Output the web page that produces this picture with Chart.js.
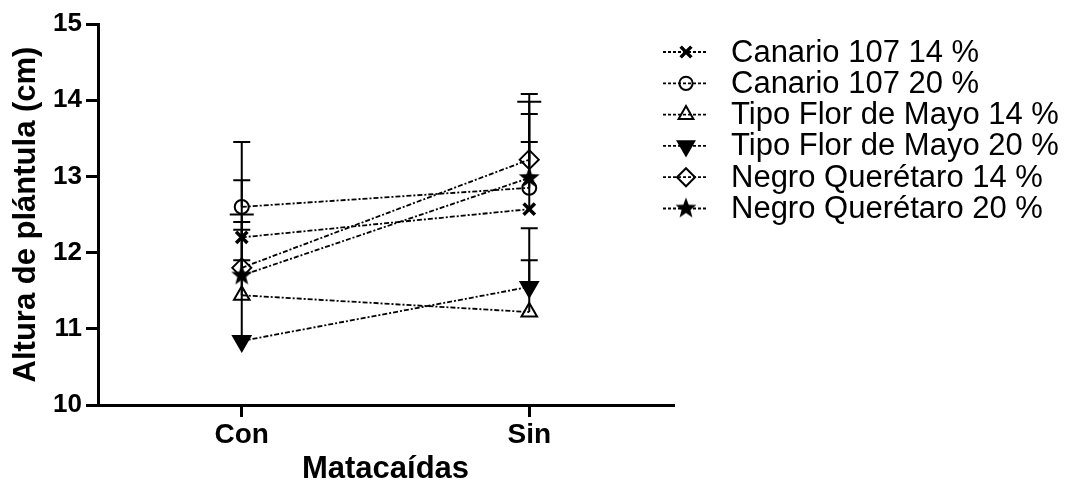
<!DOCTYPE html>
<html>
<head>
<meta charset="utf-8">
<script src="https://cdn.jsdelivr.net/npm/chart.js@4/dist/chart.umd.min.js"></script>
<style>
  html, body { margin: 0; padding: 0; background: #fff; }
  #wrap { width: 1067px; height: 489px; position: relative; }
</style>
</head>
<body>
<div id="wrap"><canvas id="c" width="1067" height="489"></canvas></div>
<script>
// ---- data ----
const categories = ['Con', 'Sin'];
const seriesNames = [
  'Canario 107 14 %',
  'Canario 107 20 %',
  'Tipo Flor de Mayo 14 %',
  'Tipo Flor de Mayo 20 %',
  'Negro Querétaro 14 %',
  'Negro Querétaro 20 %'
];
const canario14 = [12.20, 12.57];
const canario20 = [12.60, 12.85];
const tipo14 = [11.44, 11.22];
const tipo20 = [10.84, 11.55];
const negro14 = [11.80, 13.22];
const negro20 = [11.70, 12.98];
// upper error (SE) values
const canario14Err = [0.10, 1.51];
const canario20Err = [0.35, 1.13];
const tipo14Err = [1.06, 1.10];
const tipo20Err = [1.56, 0.35];
const negro14Err = [0.10, 0.23];
const negro20Err = [1.75, 0.84];
const yTicks = [10, 11, 12, 13, 14, 15];

// ---- custom marker images ----
function makeStar(r) {
  const s = Math.ceil(r * 2 + 2);
  const cv = document.createElement('canvas');
  cv.width = s; cv.height = s;
  const c = cv.getContext('2d');
  c.fillStyle = '#000';
  c.beginPath();
  for (let k = 0; k < 10; k++) {
    const rr = k % 2 === 0 ? r : r * 0.42;
    const a = -Math.PI / 2 + k * Math.PI / 5;
    const px = s / 2 + rr * Math.cos(a);
    const py = s / 2 + rr * Math.sin(a);
    if (k === 0) c.moveTo(px, py); else c.lineTo(px, py);
  }
  c.closePath();
  c.fill();
  return cv;
}
const starImg = makeStar(11);

const dash = [5, 2, 2, 2];
const FONT = "'Liberation Sans', Arial, Helvetica, sans-serif";

function ds(label, data, err, style) {
  return Object.assign({
    label: label,
    data: data,
    errUp: err,
    borderColor: '#000',
    borderWidth: 1.8,
    borderDash: dash,
    pointBorderColor: '#000',
    pointBackgroundColor: 'rgba(0,0,0,0)',
    pointBorderWidth: 2,
    pointRadius: 7.5,
    pointHoverRadius: 7.5,
    capWidth: [17, 17],
    fill: false,
    tension: 0
  }, style);
}

const datasets = [
  ds(seriesNames[0], canario14, canario14Err, { pointStyle: 'crossRot', pointRadius: 8, pointBorderWidth: 3.5 }),
  ds(seriesNames[1], canario20, canario20Err, { pointStyle: 'circle', pointRadius: 7, capWidth: [17, 24] }),
  ds(seriesNames[2], tipo14, tipo14Err, { pointStyle: 'triangle', pointRadius: 9, capWidth: [24, 17] }),
  ds(seriesNames[3], tipo20, tipo20Err, { pointStyle: 'triangle', pointRotation: 180, pointRadius: 10, pointBackgroundColor: '#000' }),
  ds(seriesNames[4], negro14, negro14Err, { pointStyle: 'rectRot', pointRadius: 9.5 }),
  ds(seriesNames[5], negro20, negro20Err, { pointStyle: starImg, pointRadius: 11 })
];

// ---- error bars plugin ----
const errorBars = {
  id: 'errorBars',
  beforeDatasetsDraw(chart) {
    const ctx = chart.ctx;
    const ys = chart.scales.y;
    ctx.save();
    ctx.strokeStyle = '#000';
    ctx.lineWidth = 2;
    ctx.setLineDash([]);
    chart.data.datasets.forEach((d, i) => {
      const meta = chart.getDatasetMeta(i);
      meta.data.forEach((pt, j) => {
        const e = d.errUp[j];
        const yTop = ys.getPixelForValue(d.data[j] + e);
        const cw = d.capWidth[j] / 2;
        ctx.beginPath();
        ctx.moveTo(pt.x, pt.y);
        ctx.lineTo(pt.x, yTop);
        ctx.moveTo(pt.x - cw, yTop);
        ctx.lineTo(pt.x + cw, yTop);
        ctx.stroke();
      });
    });
    ctx.restore();
  }
};

// ---- legend plugin (line + marker + label) ----
const sideLegend = {
  id: 'sideLegend',
  afterDraw(chart) {
    const ctx = chart.ctx;
    const x0 = 663, x1 = 707, mx = 686, tx = 731;
    const y0 = 52, step = 31.3;
    ctx.save();
    chart.data.datasets.forEach((d, i) => {
      const y = y0 + i * step;
      ctx.strokeStyle = '#000';
      ctx.lineWidth = 1.8;
      ctx.setLineDash([3, 2]);
      ctx.beginPath();
      ctx.moveTo(x0, y);
      ctx.lineTo(x1, y);
      ctx.stroke();
      ctx.setLineDash([]);
      ctx.fillStyle = d.pointBackgroundColor;
      ctx.strokeStyle = '#000';
      ctx.lineWidth = d.pointBorderWidth;
      Chart.helpers.drawPoint(ctx, {
        pointStyle: d.pointStyle,
        rotation: d.pointRotation || 0,
        radius: d.pointRadius * 0.95,
        borderWidth: d.pointBorderWidth
      }, mx, y);
      ctx.fillStyle = '#000';
      ctx.font = '31px ' + FONT;
      ctx.textBaseline = 'middle';
      ctx.textAlign = 'left';
      ctx.fillText(d.label, tx, y + 1);
    });
    ctx.restore();
  }
};

new Chart(document.getElementById('c'), {
  type: 'line',
  data: { labels: categories, datasets: datasets },
  plugins: [errorBars, sideLegend],
  options: {
    responsive: false,
    animation: false,
    events: [],
    layout: { padding: { left: 0, top: 24, right: 394, bottom: 0 } },
    plugins: { legend: { display: false }, tooltip: { enabled: false } },
    scales: {
      x: {
        type: 'category',
        offset: true,
        afterFit: (s) => { s.height = 84; },
        grid: { display: true, drawOnChartArea: false, color: '#000', lineWidth: 3, tickLength: 12, tickWidth: 3, tickColor: '#000', offset: false },
        border: { display: true, color: '#000', width: 3 },
        ticks: { color: '#000', padding: 1, font: { family: FONT, size: 28, weight: 'bold' } },
        title: { display: true, text: 'Matacaídas', color: '#000', padding: { top: 0, bottom: 1 }, font: { family: FONT, size: 31, weight: 'bold', lineHeight: 1.2 } }
      },
      y: {
        min: 10,
        max: 15,
        afterFit: (s) => { s.width = 98; },
        afterBuildTicks: (s) => { s.ticks = yTicks.map(v => ({ value: v })); },
        grid: { display: true, drawOnChartArea: false, color: '#000', lineWidth: 3, tickLength: 12, tickWidth: 3, tickColor: '#000' },
        border: { display: true, color: '#000', width: 3 },
        ticks: { color: '#000', padding: 4, font: { family: FONT, size: 26, weight: 'bold' } },
        title: { display: true, text: 'Altura de plántula (cm)', color: '#000', padding: { top: 8, bottom: 0 }, font: { family: FONT, size: 31, weight: 'bold', lineHeight: 1.2 } }
      }
    }
  }
});
</script>
</body>
</html>
